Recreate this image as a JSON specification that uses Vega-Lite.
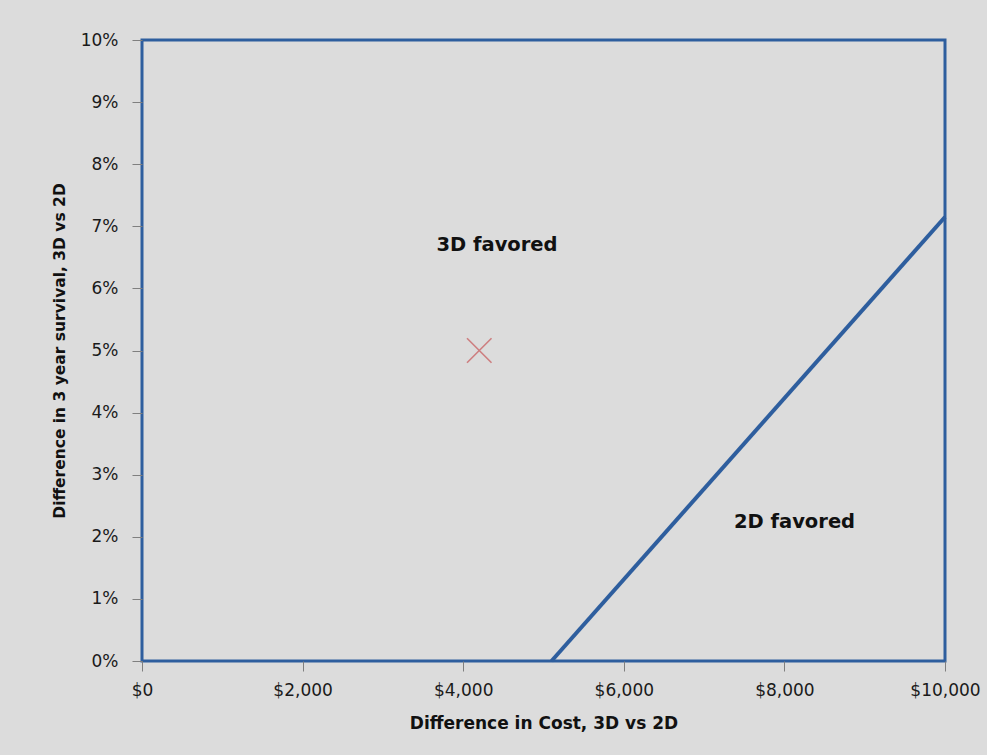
{
  "$schema": "https://vega.github.io/schema/vega-lite/v6.json",
  "width": 803,
  "height": 621,
  "autosize": {"type": "none"},
  "padding": {"left": 142, "top": 40, "right": 42, "bottom": 94},
  "background": "#dcdcdc",
  "config": {
    "view": {"stroke": "#2e5e9e", "strokeWidth": 3, "fill": null},
    "axis": {
      "grid": false,
      "domain": false,
      "labelFont": "DejaVu Sans",
      "labelFontSize": 17,
      "labelColor": "#1a1a1a",
      "labelFlush": false,
      "labelOverlap": false,
      "tickColor": "#7f7f7f",
      "tickSize": 10,
      "tickWidth": 1,
      "titleFont": "DejaVu Sans",
      "titleFontWeight": "bold",
      "titleColor": "#111111"
    }
  },
  "layer": [
    {
      "data": {
        "values": [
          {"cost": 5100, "survival": 0.0},
          {"cost": 10000, "survival": 0.0715}
        ]
      },
      "mark": {"type": "line", "color": "#2e5e9e", "strokeWidth": 4},
      "encoding": {
        "x": {
          "field": "cost",
          "type": "quantitative",
          "scale": {"domain": [0, 10000], "nice": false},
          "axis": {
            "values": [0, 2000, 4000, 6000, 8000, 10000],
            "format": "$,.0f",
            "labelPadding": 11,
            "title": "Difference in Cost, 3D vs 2D",
            "titleFontSize": 17,
            "titlePadding": 17
          }
        },
        "y": {
          "field": "survival",
          "type": "quantitative",
          "scale": {"domain": [0, 0.1], "nice": false},
          "axis": {
            "values": [0, 0.01, 0.02, 0.03, 0.04, 0.05, 0.06, 0.07, 0.08, 0.09, 0.1],
            "format": ".0%",
            "labelPadding": 14,
            "title": "Difference in 3 year survival, 3D vs 2D",
            "titleFontSize": 15.5,
            "titlePadding": 13
          }
        }
      }
    },
    {
      "data": {"values": [{"cost": 4200, "survival": 0.05}]},
      "mark": {
        "type": "point",
        "shape": "M-1,-1L1,1M-1,1L1,-1",
        "filled": false,
        "size": 600,
        "stroke": "#c8585a",
        "strokeWidth": 1.6
      },
      "encoding": {
        "x": {"field": "cost", "type": "quantitative"},
        "y": {"field": "survival", "type": "quantitative"}
      }
    },
    {
      "data": {
        "values": [
          {"cost": 4421, "survival": 0.067, "label": "3D favored"},
          {"cost": 8126, "survival": 0.0224, "label": "2D favored"}
        ]
      },
      "mark": {
        "type": "text",
        "font": "DejaVu Sans",
        "fontWeight": "bold",
        "fontSize": 19.5,
        "color": "#111111",
        "align": "center",
        "baseline": "middle"
      },
      "encoding": {
        "x": {"field": "cost", "type": "quantitative"},
        "y": {"field": "survival", "type": "quantitative"},
        "text": {"field": "label"}
      }
    }
  ]
}
